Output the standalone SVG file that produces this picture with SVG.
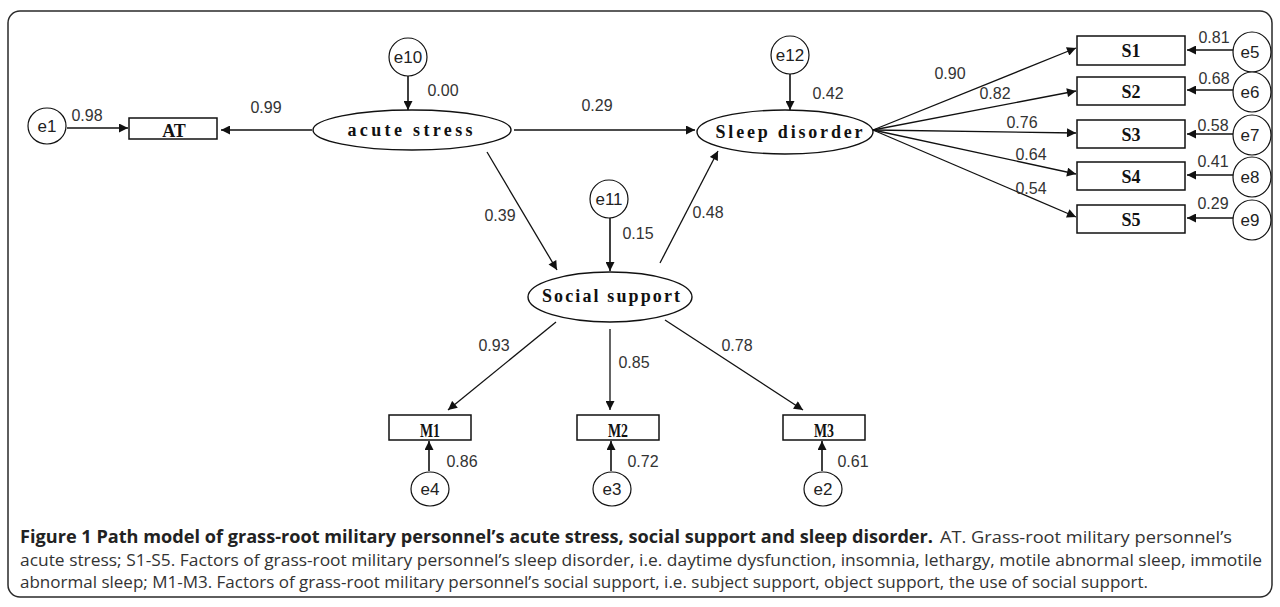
<svg xmlns="http://www.w3.org/2000/svg" width="1280" height="607" viewBox="0 0 1280 607">
<style>
.bg{fill:#fff}
.frame{fill:none;stroke:#2a2a2a;stroke-width:1.5}
.err ellipse{fill:#fff;stroke:#111;stroke-width:1.2}
.err text{font-family:"Liberation Sans",Arial,sans-serif;font-size:17px;fill:#222;text-anchor:middle}
.lat ellipse{fill:#fff;stroke:#111;stroke-width:1.4}
.lat text{font-family:"Liberation Serif","Times New Roman",serif;font-weight:bold;font-size:18px;fill:#111;text-anchor:middle}
.obs rect{fill:#fff;stroke:#111;stroke-width:1.5}
.obs text{font-family:"Liberation Serif","Times New Roman",serif;font-weight:bold;font-size:18px;fill:#111;text-anchor:middle}
.conn line{stroke:#111;stroke-width:1.3;marker-end:url(#ah)}
.conn line.e{stroke-width:1.6}
.lbl text{font-family:"Liberation Sans",Arial,sans-serif;font-size:16px;fill:#333;text-anchor:middle}
.cap{font-family:"Open Sans","Noto Sans","Liberation Sans",sans-serif;font-size:17px;fill:#333}
.capb{font-weight:bold;fill:#222}
</style>
<defs>
<marker id="ah" viewBox="0 0 10 10" refX="10" refY="5" markerWidth="11" markerHeight="9" markerUnits="userSpaceOnUse" orient="auto">
<path d="M0,0 L10,5 L0,10 z" fill="#111"/>
</marker>
</defs>
<rect class="bg" x="0" y="0" width="1280" height="607"/>
<rect class="frame" x="8" y="11" width="1264" height="586" rx="12" ry="12"/>

<g id="connectors" class="conn">
<line class="e" x1="67" y1="128" x2="128" y2="128"/>
<line x1="312" y1="130" x2="221" y2="130"/>
<line class="e" x1="408" y1="76" x2="408" y2="110"/>
<line x1="514" y1="130" x2="695" y2="130"/>
<line class="e" x1="790" y1="74" x2="790" y2="110"/>
<line x1="487" y1="152" x2="557" y2="270"/>
<line class="e" x1="610" y1="218" x2="610" y2="271"/>
<line x1="660" y1="263" x2="718" y2="151"/>
<line x1="873" y1="130" x2="1076" y2="48"/>
<line x1="873" y1="130" x2="1076" y2="91"/>
<line x1="873" y1="130" x2="1076" y2="133"/>
<line x1="873" y1="130" x2="1076" y2="174"/>
<line x1="873" y1="130" x2="1076" y2="217"/>
<line class="e" x1="1233" y1="50" x2="1187" y2="50"/>
<line class="e" x1="1233" y1="90" x2="1187" y2="90"/>
<line class="e" x1="1233" y1="134" x2="1187" y2="134"/>
<line class="e" x1="1233" y1="175" x2="1187" y2="175"/>
<line class="e" x1="1233" y1="218" x2="1187" y2="218"/>
<line x1="556" y1="322" x2="448" y2="410"/>
<line x1="610" y1="329" x2="610" y2="410"/>
<line x1="665" y1="320" x2="803" y2="410"/>
<line class="e" x1="429" y1="471" x2="429" y2="441"/>
<line class="e" x1="611" y1="471" x2="611" y2="441"/>
<line class="e" x1="822" y1="471" x2="822" y2="441"/>
</g>

<g id="labels" class="lbl">
<text x="87" y="121">0.98</text>
<text x="266" y="113">0.99</text>
<text x="443" y="96">0.00</text>
<text x="597" y="111">0.29</text>
<text x="828" y="99">0.42</text>
<text x="950" y="79">0.90</text>
<text x="995" y="99">0.82</text>
<text x="1022" y="128">0.76</text>
<text x="1031" y="160">0.64</text>
<text x="1031" y="194">0.54</text>
<text x="1214" y="43">0.81</text>
<text x="1214" y="84">0.68</text>
<text x="1213" y="131">0.58</text>
<text x="1213" y="167">0.41</text>
<text x="1213" y="209">0.29</text>
<text x="500" y="221">0.39</text>
<text x="638" y="239">0.15</text>
<text x="708" y="218">0.48</text>
<text x="494" y="351">0.93</text>
<text x="634" y="368">0.85</text>
<text x="737" y="351">0.78</text>
<text x="462" y="467">0.86</text>
<text x="643" y="467">0.72</text>
<text x="853" y="467">0.61</text>
</g>

<g id="e1" class="err"><ellipse cx="47" cy="126" rx="19" ry="18"/><text x="47" y="132">e1</text></g>
<g id="e10" class="err"><ellipse cx="408" cy="57" rx="19" ry="19"/><text x="408" y="63">e10</text></g>
<g id="e12" class="err"><ellipse cx="790" cy="55" rx="19" ry="19"/><text x="790" y="61">e12</text></g>
<g id="e11" class="err"><ellipse cx="609" cy="199" rx="19" ry="19"/><text x="609" y="205">e11</text></g>
<g id="e5" class="err"><ellipse cx="1252" cy="52" rx="19" ry="20"/><text x="1250" y="58">e5</text></g>
<g id="e6" class="err"><ellipse cx="1252" cy="92" rx="19" ry="20"/><text x="1250" y="98">e6</text></g>
<g id="e7" class="err"><ellipse cx="1252" cy="135" rx="19" ry="20"/><text x="1250" y="141">e7</text></g>
<g id="e8" class="err"><ellipse cx="1252" cy="177" rx="19" ry="20"/><text x="1250" y="183">e8</text></g>
<g id="e9" class="err"><ellipse cx="1252" cy="220" rx="19" ry="20"/><text x="1250" y="226">e9</text></g>
<g id="e4" class="err"><ellipse cx="430" cy="489" rx="19" ry="17"/><text x="430" y="495">e4</text></g>
<g id="e3" class="err"><ellipse cx="612" cy="489" rx="19" ry="17"/><text x="612" y="495">e3</text></g>
<g id="e2" class="err"><ellipse cx="823" cy="489" rx="19" ry="17"/><text x="823" y="495">e2</text></g>

<g id="AT" class="obs"><rect x="129" y="118" width="88" height="21"/><text x="174" y="137">AT</text></g>
<g id="S1" class="obs"><rect x="1077" y="36" width="108" height="29"/><text x="1131" y="57">S1</text></g>
<g id="S2" class="obs"><rect x="1077" y="77" width="108" height="28"/><text x="1131" y="98">S2</text></g>
<g id="S3" class="obs"><rect x="1077" y="120" width="108" height="28"/><text x="1131" y="141">S3</text></g>
<g id="S4" class="obs"><rect x="1077" y="162" width="108" height="28"/><text x="1131" y="183">S4</text></g>
<g id="S5" class="obs"><rect x="1077" y="205" width="108" height="28"/><text x="1131" y="226">S5</text></g>
<g id="M1" class="obs"><rect x="389" y="415" width="82" height="25"/><text x="430" y="437" textLength="20" lengthAdjust="spacingAndGlyphs">M1</text></g>
<g id="M2" class="obs"><rect x="577" y="415" width="82" height="25"/><text x="618" y="437" textLength="20" lengthAdjust="spacingAndGlyphs">M2</text></g>
<g id="M3" class="obs"><rect x="783" y="415" width="82" height="25"/><text x="824" y="437" textLength="20" lengthAdjust="spacingAndGlyphs">M3</text></g>

<g id="acute_stress" class="lat"><ellipse cx="412" cy="130" rx="99" ry="20"/><text x="410" y="136" textLength="125" lengthAdjust="spacing">acute stress</text></g>
<g id="sleep_disorder" class="lat"><ellipse cx="785" cy="132" rx="88" ry="22"/><text x="789" y="138" textLength="147" lengthAdjust="spacing">Sleep disorder</text></g>
<g id="social_support" class="lat"><ellipse cx="610" cy="297" rx="82" ry="25"/><text x="611" y="302" textLength="138" lengthAdjust="spacing">Social support</text></g>

<g id="caption">
<text class="cap capb" x="20" y="543" textLength="913" lengthAdjust="spacingAndGlyphs">Figure 1 Path model of grass-root military personnel’s acute stress, social support and sleep disorder.</text>
<text class="cap" x="940" y="543" textLength="292" lengthAdjust="spacingAndGlyphs">AT. Grass-root military personnel’s</text>
<text class="cap" x="20" y="566" textLength="1242" lengthAdjust="spacingAndGlyphs">acute stress; S1-S5. Factors of grass-root military personnel’s sleep disorder, i.e. daytime dysfunction, insomnia, lethargy, motile abnormal sleep, immotile</text>
<text class="cap" x="20" y="588" textLength="1128" lengthAdjust="spacingAndGlyphs">abnormal sleep; M1-M3. Factors of grass-root military personnel’s social support, i.e. subject support, object support, the use of social support.</text>
</g>
</svg>
